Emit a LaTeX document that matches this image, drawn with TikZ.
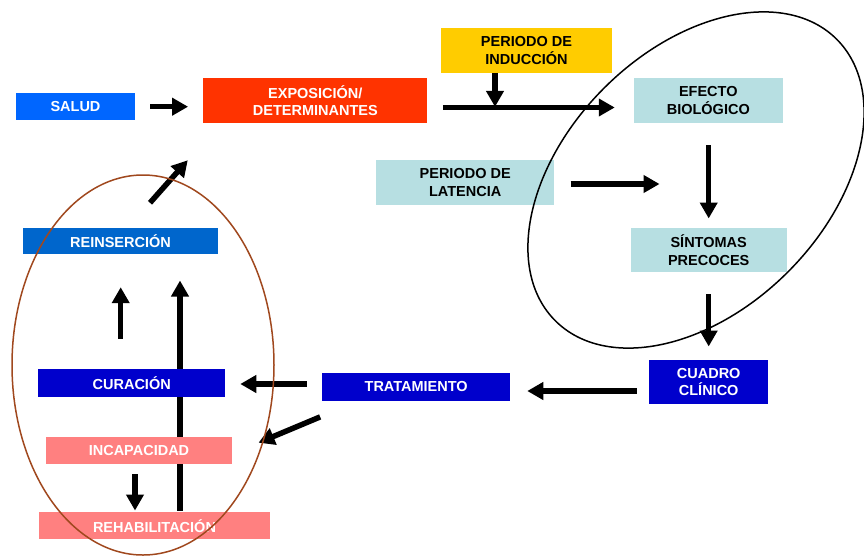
\documentclass[tikz,border=0pt]{standalone}
\usepackage{fontspec}
\setmainfont{Liberation Sans}
\usetikzlibrary{arrows.meta}
\definecolor{cSalud}{RGB}{0,102,255}
\definecolor{cExpo}{RGB}{255,51,0}
\definecolor{cInd}{RGB}{255,204,0}
\definecolor{cCyan}{RGB}{183,223,226}
\definecolor{cDark}{RGB}{0,0,204}
\definecolor{cReins}{RGB}{0,102,204}
\definecolor{cPink}{RGB}{255,128,128}
\definecolor{cBrown}{RGB}{160,72,30}
\tikzset{
  box/.style={inner sep=0pt, align=center, font=\fontsize{14.5}{17.5}\selectfont\bfseries},
  wbox/.style={box, text=white},
  kbox/.style={box, text=black},
  arr/.style={line width=5.5pt, -{Triangle[length=16pt,width=17pt]}},
  ring/.style={line width=1.5pt}
}
\begin{document}
\begin{tikzpicture}[x=1pt,y=-1pt]
\useasboundingbox (0,0) rectangle (864,557);
% boxes drawn after the long vertical line
\node[wbox, fill=cPink, minimum width=231pt, minimum height=26.7pt] (rehab) at (154.5,525.7) {REHABILITACIÓN};
\node[wbox, fill=cReins, minimum width=194.4pt, minimum height=26.6pt] (reins) at (120.5,241) {REINSERCIÓN};
\draw[arr] ([xshift=25.5pt,yshift=1.6pt]rehab.north) -- ([xshift=25.5pt]rehab.north |- reins.south) [shorten >=26pt];
\node[wbox, fill=cDark, minimum width=186.7pt, minimum height=27.4pt] (cur) at (131.7,383) {CURACIÓN};
\node[wbox, fill=cPink, minimum width=186.6pt, minimum height=26.7pt] (incap) at (139,450.7) {INCAPACIDAD};
\node[wbox, fill=cSalud, minimum width=119pt, minimum height=26.7pt] (salud) at (75.5,106.7) {SALUD};
\node[wbox, fill=cExpo, minimum width=224pt, minimum height=44.4pt] (expo) at (315.3,100.5) {EXPOSICIÓN/\\DETERMINANTES};
\node[kbox, fill=cInd, minimum width=171.6pt, minimum height=44.4pt] (ind) at (526.5,50.5) {PERIODO DE\\INDUCCIÓN};
\node[kbox, fill=cCyan, minimum width=148.7pt, minimum height=44.4pt] (efecto) at (708.3,100.5) {EFECTO\\BIOLÓGICO};
\node[kbox, fill=cCyan, minimum width=178.3pt, minimum height=45pt] (lat) at (465.2,182.5) {PERIODO DE\\LATENCIA};
\node[kbox, fill=cCyan, minimum width=156pt, minimum height=44.6pt] (sint) at (708.7,250) {SÍNTOMAS\\PRECOCES};
\node[wbox, fill=cDark, minimum width=119.3pt, minimum height=44pt] (cuadro) at (708.7,382) {CUADRO\\CLÍNICO};
\node[wbox, fill=cDark, minimum width=187.7pt, minimum height=27.4pt] (trat) at (416.2,387) {TRATAMIENTO};
% arrows
\draw[arr, shorten <=15pt, shorten >=15pt] (salud.east) -- (salud.east -| expo.west);
\draw[arr] ([xshift=15.4pt,yshift=-7pt]expo.east) -- ([xshift=-19pt,yshift=-7pt]efecto.west);
\draw[arr] ([xshift=-31.5pt]ind.south) -- ++(0,34);
\draw[arr] ([xshift=16pt,yshift=-1.5pt]lat.east) -- ++(89,0);
\draw[arr, shorten <=22.3pt, shorten >=9pt] ([xshift=0.4pt]efecto.south) -- ([xshift=0.4pt]efecto.south |- sint.north);
\draw[arr, shorten <=21.7pt, shorten >=13.3pt] (sint.south) -- (sint.south |- cuadro.north);
\draw[arr, shorten <=12pt, shorten >=17pt] ([yshift=-9pt]cuadro.west) -- ([yshift=-9pt]cuadro.west -| trat.east);
\draw[arr, shorten <=15.3pt, shorten >=15pt] ([yshift=3pt]trat.west) -- ([yshift=3pt]trat.west -| cur.east);
\draw[arr] ([xshift=-2pt,yshift=-16pt]trat.south west) -- ([xshift=26pt,yshift=8pt]incap.east);
\draw[arr, shorten <=10pt, shorten >=1.6pt] ([xshift=-4pt]incap.south) -- ([xshift=-4pt]incap.south |- rehab.north);
\draw[arr, shorten <=30.3pt, shorten >=32.7pt] ([xshift=-11pt]cur.north) -- ([xshift=-11pt]cur.north |- reins.south);
\draw[arr] ([xshift=29.5pt,yshift=24.7pt]reins.north) -- ([xshift=-15.3pt,yshift=-37.3pt]expo.south west);
% ellipses
\draw[ring, black, rotate around={45:(696,180)}] (696,180) ellipse [x radius=199, y radius=130];
\draw[ring, cBrown] (143,365) ellipse [x radius=131, y radius=190];
\end{tikzpicture}
\end{document}
